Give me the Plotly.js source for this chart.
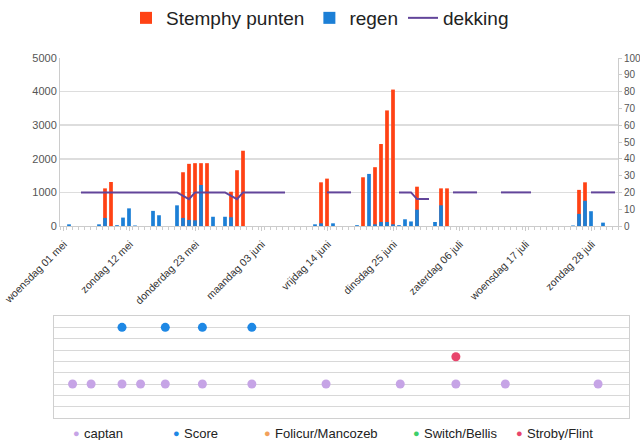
<!DOCTYPE html>
<html>
<head>
<meta charset="utf-8">
<script src="https://cdn.plot.ly/plotly-3.0.1.min.js"></script>
<style>html,body{margin:0;padding:0;background:#fff;}#chart{width:640px;height:440px;}</style>
</head>
<body>
<div id="chart"></div>
<script>
// ---- Top chart data ----
const stemphyDates = ['2013-05-08','2013-05-09','2013-05-21','2013-05-22','2013-05-23','2013-05-24','2013-05-25','2013-05-29','2013-05-30','2013-05-31','2013-06-13','2013-06-14','2013-06-20','2013-06-22','2013-06-23','2013-06-24','2013-06-25','2013-06-29','2013-07-03','2013-07-04','2013-07-26','2013-07-27'];
const stemphyValues = [1120,1310,1600,1850,1870,1870,1870,1020,1660,2240,1300,1410,1450,1750,2440,3440,4060,1170,1120,1120,1075,1300];

const regenDates = ['2013-05-02','2013-05-07','2013-05-08','2013-05-10','2013-05-11','2013-05-12','2013-05-13','2013-05-16','2013-05-17','2013-05-20','2013-05-21','2013-05-22','2013-05-23','2013-05-24','2013-05-26','2013-05-28','2013-05-29','2013-06-12','2013-06-13','2013-06-15','2013-06-19','2013-06-21','2013-06-22','2013-06-23','2013-06-24','2013-06-25','2013-06-26','2013-06-27','2013-06-28','2013-06-29','2013-07-02','2013-07-03','2013-07-25','2013-07-26','2013-07-27','2013-07-28','2013-07-30'];
const regenValues = [1,1,4.8,0.5,5,10.5,0.3,9,6.4,12.3,4.8,3.6,3.4,24.4,5.5,5.5,5.2,1,1.6,1.6,0.5,31,1,2.4,2.4,1,0.5,4,2.7,9.7,2.4,12.3,0.3,7.2,15,8.8,2];

const dekkingDates = ['2013-05-04','2013-05-20','2013-05-22','2013-05-23','2013-05-28','2013-05-30','2013-05-31','2013-06-07','2013-06-10','2013-06-14','2013-06-18','2013-06-22','2013-06-26','2013-06-28','2013-06-29','2013-07-01','2013-07-03','2013-07-05','2013-07-09','2013-07-11','2013-07-13','2013-07-18','2013-07-23','2013-07-28','2013-08-01'];
const dekkingValues = [20,20,16,20,20,16,20,20,null,20,20,null,20,20,16,16,null,20,20,null,20,20,null,20,20];

const tickDates = ['2013-05-01','2013-05-12','2013-05-23','2013-06-03','2013-06-14','2013-06-25','2013-07-06','2013-07-17','2013-07-28'];
const tickLabels = ['woensdag 01 mei','zondag 12 mei','donderdag 23 mei','maandag 03 juni','vrijdag 14 juni','dinsdag 25 juni','zaterdag 06 juli','woensdag 17 juli','zondag 28 juli'];

// ---- Bottom chart data ----
const captanDates = ['2013-05-04','2013-05-07','2013-05-12','2013-05-15','2013-05-19','2013-05-25','2013-06-02','2013-06-14','2013-06-26','2013-07-05','2013-07-13','2013-07-28'];
const captanRow = [3,3,3,3,3,3,3,3,3,3,3,3];
const scoreDates = ['2013-05-12','2013-05-19','2013-05-25','2013-06-02'];
const scoreRow = [8,8,8,8];
const folicurDates = [];
const folicurRow = [];
const switchDates = [];
const switchRow = [];
const strobyDates = ['2013-07-05'];
const strobyRow = [5.4];

const productNames = ['captan','Score','Folicur/Mancozeb','Switch/Bellis','Stroby/Flint'];
const productColors = ['#c6a4e6','#1e88e5','#f2a15a','#3ecf6a','#e8456c'];

const DAY = 86400000;
const FONT = 'Liberation Sans, Arial, sans-serif';
const W = 640, H = 440;

const traces = [
  {type:'bar', name:'Stemphy punten', x:stemphyDates, y:stemphyValues, xaxis:'x', yaxis:'y',
   width:0.62*DAY, marker:{color:'#ff4214'}},
  {type:'bar', name:'regen', x:regenDates, y:regenValues, xaxis:'x', yaxis:'y2',
   width:0.62*DAY, marker:{color:'#1c7fd6'}},
  {type:'scatter', mode:'lines', name:'dekking', x:dekkingDates, y:dekkingValues, xaxis:'x', yaxis:'y2',
   connectgaps:false, line:{color:'#62459a', width:2}},

  {type:'scatter', mode:'markers', name:productNames[0], x:captanDates, y:captanRow, xaxis:'x2', yaxis:'y3',
   marker:{color:productColors[0], size:9}, showlegend:false},
  {type:'scatter', mode:'markers', name:productNames[1], x:scoreDates, y:scoreRow, xaxis:'x2', yaxis:'y3',
   marker:{color:productColors[1], size:9}, showlegend:false},
  {type:'scatter', mode:'markers', name:productNames[2], x:folicurDates, y:folicurRow, xaxis:'x2', yaxis:'y3',
   marker:{color:productColors[2], size:9}, showlegend:false},
  {type:'scatter', mode:'markers', name:productNames[3], x:switchDates, y:switchRow, xaxis:'x2', yaxis:'y3',
   marker:{color:productColors[3], size:9}, showlegend:false},
  {type:'scatter', mode:'markers', name:productNames[4], x:strobyDates, y:strobyRow, xaxis:'x2', yaxis:'y3',
   marker:{color:productColors[4], size:9}, showlegend:false}
];

// bottom legend, drawn as text (dot + label)
const legendDotX = [76.5, 176, 267, 416, 519];
const legendTextX = [82, 182, 273, 422, 525];
const annotations = [];
productNames.forEach((nm, i) => {
  annotations.push({xref:'paper', yref:'paper', x:legendDotX[i]/W, y:(H-433)/H, xanchor:'center', yanchor:'middle',
                    text:'●', showarrow:false, font:{size:11, color:productColors[i], family:FONT}});
  annotations.push({xref:'paper', yref:'paper', x:legendTextX[i]/W, y:(H-433)/H, xanchor:'left', yanchor:'middle',
                    text:nm, showarrow:false, font:{size:13, color:'#222', family:FONT}});
});

const layout = {
  width:W, height:H,
  margin:{l:0, r:0, t:0, b:0, autoexpand:false},
  paper_bgcolor:'#ffffff', plot_bgcolor:'rgba(0,0,0,0)',
  font:{family:FONT, color:'#444'},
  barmode:'overlay',
  showlegend:true,
  legend:{orientation:'h', x:0.5, xanchor:'center', y:(H-18)/H, yanchor:'middle',
          font:{size:19, color:'#222', family:FONT}, bgcolor:'rgba(0,0,0,0)', traceorder:'normal', itemwidth:30},
  annotations:annotations,
  xaxis:{type:'date', domain:[60/W, 618/W], anchor:'y',
         range:['2013-04-30 12:00','2013-08-01 12:00'],
         tickmode:'array', tickvals:tickDates, ticktext:tickLabels, tickangle:-45,
         tickfont:{size:10.5, color:'#333', family:FONT},
         ticks:'outside', ticklen:4, tickcolor:'#cccccc', ticklabelstandoff:3, ticklabelshift:1,
         minor:{dtick:DAY, tick0:'2013-04-30 12:00', ticks:'outside', ticklen:3, tickcolor:'#cccccc', showgrid:false},
         showline:true, linecolor:'#cccccc', linewidth:1, showgrid:false, zeroline:false, fixedrange:true},
  yaxis:{domain:[(H-226)/H, (H-58)/H], anchor:'x', range:[0,5000], dtick:1000,
         gridcolor:'#dddddd', gridwidth:1.5, showline:true, linecolor:'#cccccc',
         tickfont:{size:11, color:'#555', family:FONT}, zeroline:false, ticks:'', fixedrange:true},
  yaxis2:{overlaying:'y', side:'right', anchor:'x', range:[0,100], dtick:10, showgrid:false,
          showline:true, linecolor:'#cccccc', ticks:'outside', ticklen:3, tickcolor:'#cccccc', ticklabelstandoff:0,
          tickfont:{size:10, color:'#555', family:FONT}, zeroline:false, fixedrange:true},
  xaxis2:{type:'date', domain:[54/W, 629/W], anchor:'y3',
          range:['2013-05-01','2013-08-02'], showticklabels:false, ticks:'',
          showgrid:false, showline:true, mirror:true, linecolor:'#d0d0d0', zeroline:false, fixedrange:true},
  yaxis3:{domain:[(H-418)/H, (H-316)/H], anchor:'x2', range:[0,9], dtick:1, showticklabels:false, ticks:'',
          gridcolor:'#d8d8d8', gridwidth:1, showline:true, mirror:true, linecolor:'#d0d0d0', zeroline:false, fixedrange:true}
};

Plotly.newPlot('chart', traces, layout, {displayModeBar:false, staticPlot:true});
</script>
</body>
</html>
